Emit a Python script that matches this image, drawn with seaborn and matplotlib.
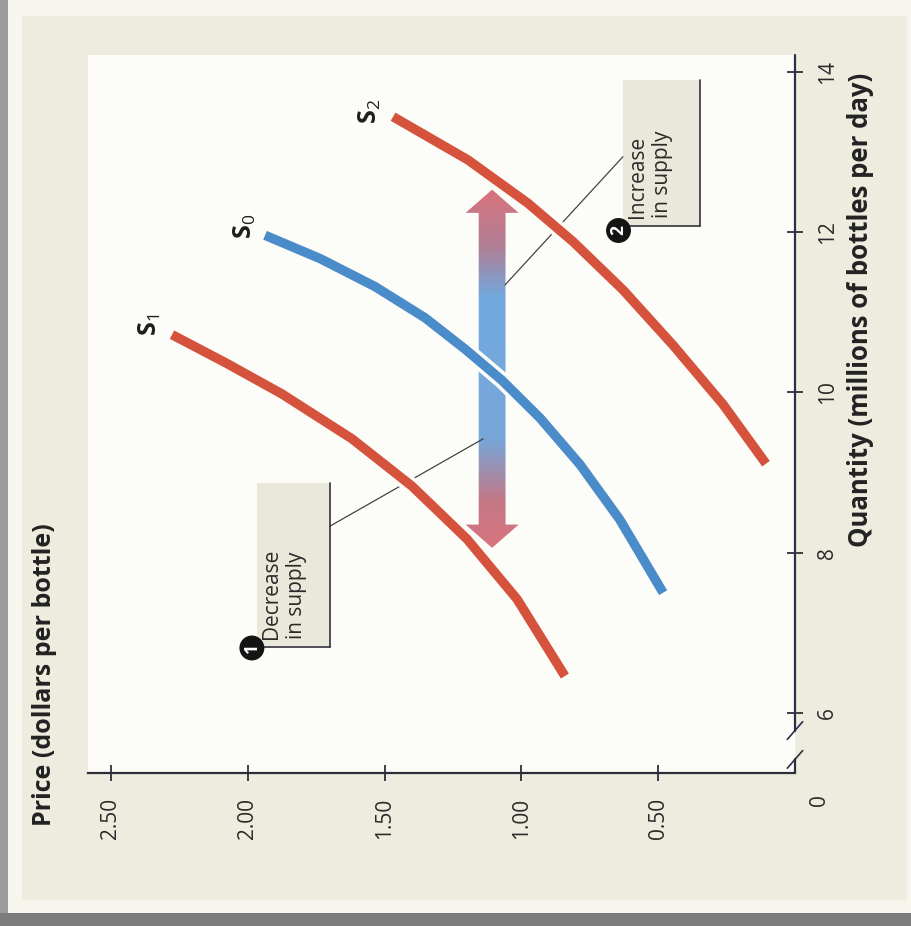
import numpy as np
import pandas as pd
import matplotlib
matplotlib.use("Agg")
import matplotlib.pyplot as plt
from matplotlib.patches import Polygon, Rectangle
from matplotlib.colors import LinearSegmentedColormap
import matplotlib.patheffects as pe
import seaborn as sns

# --- supply schedules: price ($ per bottle) vs quantity (millions of bottles per day)
s1_price = [0.841, 1.016, 1.199, 1.400, 1.619, 1.875, 2.076, 2.277]
s1_qty   = [6.46, 7.42, 8.17, 8.83, 9.42, 9.98, 10.36, 10.72]
s0_price = [0.482, 0.640, 0.786, 0.932, 1.071, 1.206, 1.352, 1.535, 1.736, 1.937]
s0_qty   = [7.50, 8.41, 9.10, 9.68, 10.15, 10.54, 10.93, 11.32, 11.67, 11.96]
s2_price = [0.106, 0.263, 0.446, 0.629, 0.811, 0.976, 1.195, 1.469]
s2_qty   = [9.11, 9.85, 10.59, 11.28, 11.88, 12.36, 12.90, 13.44]

price_ticks = [2.5, 2.0, 1.5, 1.0, 0.5]
price_labels = ["2.50", "2.00", "1.50", "1.00", "0.50"]
qty_ticks = [6, 8, 10, 12, 14]
qty_labels = ["6", "8", "10", "12", "14"]

# shift arrow: price level and quantity span
arrow_price = 1.107
arrow_qty = [8.06, 12.53]

RED = "#d5533c"
BLUE = "#4a8bc9"

df = pd.concat([
    pd.DataFrame({"price": s1_price, "qty": s1_qty, "curve": "S1"}),
    pd.DataFrame({"price": s0_price, "qty": s0_qty, "curve": "S0"}),
    pd.DataFrame({"price": s2_price, "qty": s2_qty, "curve": "S2"}),
])

sns.set_style("white")
FONT = ["Open Sans", "DejaVu Sans"]
plt.rcParams["font.family"] = FONT
plt.rcParams["mathtext.fontset"] = "custom"
plt.rcParams["mathtext.rm"] = "Open Sans"
plt.rcParams["mathtext.bf"] = "Open Sans:bold"

W, H = 911, 926
fig = plt.figure(figsize=(W / 100, H / 100), dpi=100)
fig.patch.set_facecolor("#f6f5ee")

# page panel and scan edges
fig.patches.append(Rectangle((22 / W, 1 - 900 / H), 885 / W, 884 / H,
                             transform=fig.transFigure, fc="#edecdf", ec="none", zorder=-5))
fig.patches.append(Rectangle((0, 0), 8 / W, 1, transform=fig.transFigure,
                             fc="#9c9c9c", ec="none", zorder=-5))
fig.patches.append(Rectangle((0, 0), 1, 13 / H, transform=fig.transFigure,
                             fc="#7c7c7c", ec="none", zorder=-5))

left, right, top, bottom = 88, 795, 55, 773
ax = fig.add_axes([left / W, 1 - bottom / H, (right - left) / W, (bottom - top) / H])
ax.set_zorder(2)
ax.set_facecolor("#fcfcf8")

# gradient double arrow
q0, q1 = arrow_qty
hs, hh, hl = 0.049, 0.097, 0.29
p0 = arrow_price
verts = [(p0, q1), (p0 - hh, q1 - hl), (p0 - hs, q1 - hl), (p0 - hs, q0 + hl),
         (p0 - hh, q0 + hl), (p0, q0), (p0 + hh, q0 + hl), (p0 + hs, q0 + hl),
         (p0 + hs, q1 - hl), (p0 + hh, q1 - hl)]
arrow_poly = Polygon(verts, closed=True, fc="none", ec="none", transform=ax.transData)
ax.add_patch(arrow_poly)
cmap = LinearSegmentedColormap.from_list(
    "shift", [(0.0, "#d8737e"), (0.13, "#c47886"), (0.30, "#78a6d8"),
              (0.70, "#72a9de"), (0.84, "#b07f96"), (1.0, "#d9727c")])
grad = np.linspace(0, 1, 256).reshape(-1, 1)
im = ax.imshow(grad, cmap=cmap, extent=[p0 + hh, p0 - hh, q0, q1], origin="lower",
               aspect="auto", zorder=1)
im.set_clip_path(arrow_poly)

# supply curves
sns.lineplot(data=df, x="price", y="qty", hue="curve", estimator=None, sort=False,
             palette={"S1": RED, "S0": BLUE, "S2": RED}, linewidth=6.8,
             legend=False, ax=ax, zorder=3)
for ln in ax.get_lines():
    ln.set_solid_capstyle("butt")
    ln.set_solid_joinstyle("round")
    ln.set_path_effects([pe.Stroke(linewidth=12, foreground="#fcfcf8"), pe.Normal()])

ax.set_xlim(2.584, 0)
ax.set_ylim(5.25, 14.21)

# axes: price along the bottom, quantity along the right (with a break near the origin)
for s in ["top", "left", "right"]:
    ax.spines[s].set_visible(False)
ax.spines["bottom"].set_color("#2e2e3a")
ax.spines["bottom"].set_linewidth(1.6)
axis_col = "#2e2e4a"
ax.plot([0, 0], [5.25, 5.42], color=axis_col, lw=1.6, clip_on=False, zorder=4)
ax.plot([0, 0], [5.78, 14.21], color=axis_col, lw=1.6, clip_on=False, zorder=4)
for qb in (5.42, 5.78):
    ax.plot([0.028, -0.028], [qb - 0.11, qb + 0.11], color=axis_col, lw=1.2,
            clip_on=False, zorder=4)

ax.set_xticks(price_ticks)
ax.set_xticklabels(price_labels, rotation=90, fontsize=15, color="#2a2a2a")
ax.set_yticks(qty_ticks)
ax.set_yticklabels(qty_labels, rotation=90, fontsize=15, color="#2a2a2a", va="center")
ax.yaxis.tick_right()
ax.tick_params(axis="x", direction="inout", length=12, width=1.3, color="#2e2e3a", pad=12,
               bottom=True)
ax.tick_params(axis="y", direction="inout", length=12, width=1.3, color="#2e2e3a", pad=10,
               right=True, left=False)
ax.set_xlabel("")
ax.set_ylabel("")
ax.text(-0.09, 4.91, "0", rotation=90, fontsize=15, color="#2a2a2a",
        ha="center", va="center", clip_on=False)

fig.text(45 / W, 1 - 675 / H, "Price (dollars per bottle)", rotation=90, fontsize=18,
         fontweight="bold", ha="center", va="center", color="#222222")
fig.text(860 / W, 1 - 310 / H, "Quantity (millions of bottles per day)", rotation=90,
         fontsize=18.5, fontweight="bold", ha="center", va="center", color="#222222")

# curve labels
for lab, (px, qy) in {"1": (2.357, 10.84), "0": (2.01, 12.07), "2": (1.553, 13.5)}.items():
    ax.text(px, qy, r"$\mathbf{S}_{" + lab + "}$", rotation=90, fontsize=18,
            ha="center", va="center", color="#1e1e1e", zorder=5)

# callout boxes
def callout(p_l, p_r, q_lo, q_hi, text, num, num_xy, lead_from, lead_to):
    ax.add_patch(Rectangle((p_r, q_lo), p_l - p_r, q_hi - q_lo, fc="#e9e8da",
                           ec="none", zorder=2))
    ax.plot([p_r, p_r], [q_lo, q_hi], color="#333340", lw=1.2, zorder=3)
    ax.plot([num_xy[0], p_r], [q_lo, q_lo], color="#333340", lw=1.2, zorder=3)
    ax.text(p_l - 0.015, q_lo + 0.1, text, rotation=90, fontsize=15, ha="left",
            va="bottom", multialignment="left", linespacing=1.25, color="#2a2a2a",
            zorder=4)
    ax.text(num_xy[0], num_xy[1], num, rotation=90, fontsize=12.5, fontweight="bold",
            color="white", ha="center", va="center", zorder=5,
            bbox=dict(boxstyle="circle,pad=0.2", fc="#141414", ec="none"))
    ax.plot([lead_from[0], lead_to[0]], [lead_from[1], lead_to[1]], color="#444444",
            lw=0.9, zorder=2.5)

callout(1.966, 1.70, 6.82, 8.87, "Decrease\nin supply", "1", (1.985, 6.81),
        (1.70, 8.33), (1.14, 9.42))
callout(0.629, 0.347, 12.07, 13.90, "Increase\nin supply", "2", (0.645, 12.02),
        (0.629, 12.94), (1.06, 11.34))

fig.savefig("out.png", dpi=100, facecolor=fig.get_facecolor())
